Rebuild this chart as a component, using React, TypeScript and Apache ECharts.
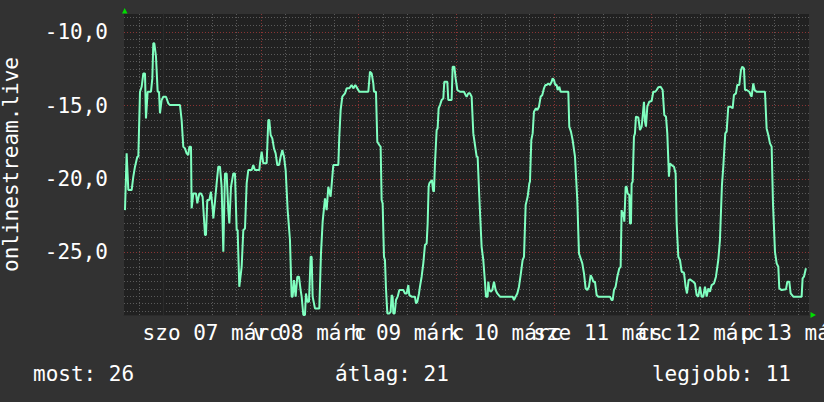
import React, { useEffect, useRef } from 'react';
import * as echarts from 'echarts';

// Time axis unit: hours since 2026-03-07 00:00 ("szo 07 márc")
const X_MIN = -9.66;
const X_MAX = 158.65;
const Y_MIN = -29.27;
const Y_MAX = -8.75;

const dayLineHours = [0, 24, 48, 72, 96, 120, 144];
const sixHourLineHours = [-6, 6, 12, 18, 30, 36, 42, 54, 60, 66, 78, 84, 90, 102, 108, 114, 126, 132, 138, 150, 156];
const xLabelHours = [12, 36, 60, 84, 108, 132, 156];
const xLabels = ['szo 07 márc', 'v 08 márc', 'h 09 márc', 'k 10 márc', 'sze 11 márc', 'cs 12 márc', 'p 13 márc'];

const yMajorValues = [-25, -20, -15, -10];
const yMajorLabels = ['-25,0', '-20,0', '-15,0', '-10,0'];
const yMinorValues = [-29, -28.5, -28, -27.5, -27, -26.5, -26, -25.5, -24.5, -24, -23.5, -23, -22.5, -22, -21.5, -21, -20.5,
  -19.5, -19, -18.5, -18, -17.5, -17, -16.5, -16, -15.5, -14.5, -14, -13.5, -13, -12.5, -12, -11.5, -11, -10.5, -9.5, -9];

const seriesName = 'onlinestream.live';
const legendNow = 'most: 26';
const legendAvg = 'átlag: 21';
const legendBest = 'legjobb: 11';

// [hour, value] readings
const readingsMar6to8: [number, number][] = [
  [-9.42, -22.12], [-9.01, -18.25], [-8.6, -20.75], [-7.78, -20.75], [-7.37, -19.84], [-6.96, -19.16], [-6.39, -18.48],
  [-6.14, -18.48], [-5.73, -14.05], [-5.32, -13.71], [-4.91, -12.8], [-4.5, -12.8], [-4.26, -15.87], [-4.1, -15.87],
  [-3.85, -14.05], [-3.03, -14.05], [-2.7, -13.14], [-2.46, -10.75], [-2.21, -10.75], [-1.8, -11.66], [-1.64, -11.66],
  [-1.39, -14.05], [-1.06, -14.05], [-0.82, -15.52], [-0.66, -15.52], [-0.41, -14.61], [0, -14.39], [0.66, -14.39],
  [1.23, -14.84], [1.64, -14.96], [4.1, -14.96], [4.5, -15.98], [4.91, -17.8], [5.32, -17.91], [5.73, -18.25],
  [6.14, -18.37], [6.39, -17.8], [6.8, -17.8], [6.96, -22.0], [7.37, -20.98], [8.03, -20.98], [8.35, -21.66],
  [8.85, -20.98], [9.25, -20.98], [9.66, -21.21], [10.24, -23.82], [10.48, -23.82], [10.81, -21.43], [11.3, -21.43],
  [11.71, -20.87], [12.12, -22.0], [12.29, -22.68], [12.69, -21.55], [13.1, -20.3], [13.51, -19.16], [13.92, -19.16],
  [14.33, -20.53], [14.74, -24.96], [14.91, -24.96], [15.15, -19.62], [15.56, -19.62], [15.97, -22.12], [16.22, -23.03],
  [16.63, -20.53], [17.2, -19.62], [17.61, -19.62], [18.02, -23.48], [18.26, -23.48], [18.67, -27.35], [18.84, -27.35],
  [19.25, -25.98], [19.66, -23.48], [20.07, -23.37], [20.48, -20.3], [20.88, -19.39], [21.7, -19.39], [22.11, -19.05],
  [22.52, -19.39], [23.59, -19.39], [23.75, -18.93], [24.16, -18.14], [24.57, -18.93], [25.39, -18.93], [25.8, -15.98],
  [26.04, -15.98], [26.37, -17.0], [26.78, -17.23], [27.19, -17.91], [27.6, -18.25], [28.01, -19.05], [28.42, -19.05],
  [28.83, -18.48], [29.24, -18.02], [29.65, -18.48], [30.06, -19.39], [30.55, -22.12], [31.12, -24.16], [31.53, -28.02],
  [31.78, -28.02], [32.1, -26.89], [32.51, -28.02], [32.92, -26.66], [33.33, -26.66], [33.74, -27.57], [33.99, -28.02],
  [34.4, -29.27], [34.81, -29.27], [35.05, -27.8], [35.38, -28.37], [35.79, -28.37], [36.2, -25.3], [36.45, -25.3],
  [36.69, -28.02], [37.26, -28.82], [38.33, -28.82], [38.74, -25.07], [39.15, -22.91], [39.72, -21.32], [40.13, -22.12],
  [40.54, -20.53], [41.11, -21.21], [41.77, -19.05], [43.0, -19.05], [43.24, -17.12], [43.57, -15.3], [43.98, -14.39],
  [44.64, -14.16], [45.05, -13.82], [45.7, -13.82], [46.27, -13.59], [46.68, -13.82], [47.17, -13.59], [47.67, -13.82],
  [48.16, -14.05],
];

const readingsMar8to11: [number, number][] = [
  [48.73, -14.05], [50.37, -14.05], [50.78, -12.68], [51.19, -12.8], [51.6, -13.48], [51.76, -14.05], [52.25, -14.05],
  [52.58, -17.46], [53.07, -17.68], [53.4, -17.8], [53.64, -21.43], [53.89, -21.66], [54.22, -25.3], [54.46, -25.52],
  [54.71, -27.46], [55.04, -29.16], [55.53, -29.16], [55.86, -29.05], [56.1, -27.91], [56.35, -28.02], [56.51, -29.16],
  [56.84, -29.16], [57.17, -28.25], [57.58, -28.02], [57.99, -27.57], [58.97, -27.57], [59.38, -27.8], [59.79, -27.8],
  [60.2, -27.23], [60.44, -27.91], [61.02, -28.02], [61.83, -28.02], [62.08, -28.48], [62.41, -28.37], [62.82, -27.8],
  [63.06, -27.34], [63.47, -26.66], [63.88, -25.75], [64.29, -24.5], [64.7, -24.39], [64.95, -23.03], [65.19, -20.53],
  [65.36, -20.3], [65.68, -20.18], [66.01, -20.07], [66.26, -20.75], [66.5, -20.87], [66.75, -18.93], [67.16, -16.66],
  [67.4, -16.55], [67.65, -15.18], [67.98, -14.96], [68.39, -14.61], [68.8, -14.5], [69.04, -13.37], [69.78, -13.37],
  [70.02, -14.61], [70.84, -14.61], [71.09, -12.34], [71.5, -12.34], [71.83, -13.14], [72.24, -13.93], [72.89, -14.05],
  [73.87, -14.05], [74.28, -14.27], [74.53, -14.39], [74.94, -14.16], [75.35, -14.16], [75.76, -14.39], [76.17, -16.89],
  [76.58, -17.68], [76.99, -18.48], [77.23, -18.48], [77.64, -21.21], [78.21, -24.62], [78.62, -25.52], [79.03, -27.0],
  [79.28, -28.02], [79.69, -28.02], [79.85, -27.0], [80.1, -27.57], [80.43, -27.68], [80.84, -27.57], [81.25, -27.0],
  [81.65, -27.57], [82.06, -27.8], [82.72, -28.02], [85.83, -28.02], [86.16, -28.25], [86.57, -28.02], [86.98, -27.8],
  [87.39, -27.34], [87.8, -26.55], [88.29, -25.52], [88.62, -25.3], [89.03, -21.77], [89.52, -21.21], [89.93, -20.3],
  [90.09, -20.18], [90.42, -17.34], [90.75, -16.89], [91.07, -15.41], [91.56, -15.18], [91.89, -15.3], [92.3, -15.07],
  [92.71, -14.39], [93.12, -14.27], [93.53, -13.82], [93.86, -13.59], [94.19, -13.59], [94.59, -13.48], [95.0, -13.59],
  [95.41, -13.37], [95.66, -13.14], [95.99, -13.25], [96.31, -13.59], [96.64, -13.59], [96.89, -13.93], [97.3, -13.71],
  [97.62, -14.05], [99.51, -14.05], [99.75, -16.43], [100.16, -16.77], [100.57, -17.34], [101.15, -18.48], [101.72, -21.43],
  [102.13, -25.07], [102.54, -25.41], [102.95, -25.75], [103.36, -26.43], [103.77, -27.46], [104.18, -27.57], [104.59, -27.34],
  [105.0, -26.55], [105.41, -26.78], [105.65, -27.0], [106.06, -27.0], [106.47, -27.91], [106.88, -28.02],
];

const readingsMar11to13: [number, number][] = [
  [109.75, -28.02], [110.16, -28.25], [110.4, -28.25], [110.73, -27.57], [111.14, -27.34], [111.55, -26.66], [112.04, -26.09],
  [112.37, -25.98], [112.61, -22.12], [112.86, -22.57], [113.02, -22.23], [113.27, -22.91], [113.6, -20.53], [113.84, -20.53],
  [114.09, -20.98], [114.5, -21.09], [114.66, -23.03], [114.91, -23.03], [115.07, -20.3], [115.32, -20.18], [115.64, -17.12],
  [115.89, -16.89], [116.13, -15.75], [116.71, -15.8], [117.12, -16.66], [117.53, -16.43], [117.77, -15.75], [118.1, -14.73],
  [118.35, -16.09], [118.59, -16.43], [118.92, -15.07], [119.41, -14.73], [119.98, -14.68], [120.39, -14.05], [120.88, -14.05],
  [121.21, -13.93], [121.62, -13.75], [122.19, -13.71], [122.69, -13.93], [123.1, -15.64], [123.51, -15.75], [123.83, -16.89],
  [124.24, -19.84], [124.49, -18.93], [124.9, -19.05], [125.47, -19.16], [125.88, -19.62], [126.13, -23.03], [126.54, -25.3],
  [126.95, -25.52], [127.36, -26.32], [127.93, -26.39], [128.34, -27.34], [128.67, -27.8], [129.07, -26.89], [129.4, -26.84],
  [130.22, -27.0], [130.63, -27.12], [131.04, -27.91], [131.45, -28.02], [131.86, -27.34], [132.27, -28.02], [132.68, -28.02],
  [133.09, -27.34], [133.5, -28.02], [133.91, -27.46], [134.32, -27.68], [134.73, -27.23], [135.3, -27.12], [135.79, -26.66],
  [136.36, -25.52], [136.77, -24.16], [137.26, -20.41], [137.59, -19.16], [138.08, -16.89], [138.41, -16.77], [138.82, -15.07],
  [139.39, -15.07], [139.89, -15.18], [140.21, -14.27], [140.7, -14.16], [141.03, -13.59], [141.52, -13.59], [141.93, -12.57],
  [142.26, -12.34], [142.67, -12.46], [142.92, -13.93], [143.33, -13.93], [143.98, -14.05], [144.55, -14.39], [144.96, -13.48],
  [145.29, -13.93], [145.78, -14.05], [147.83, -14.05], [148.24, -16.55], [148.65, -17.0], [149.06, -17.57], [149.47, -17.8],
  [149.8, -21.66], [150.29, -24.96], [150.7, -25.75], [151.11, -25.98], [151.35, -27.46], [151.93, -27.57], [152.99, -27.52],
  [153.32, -27.0], [153.81, -27.0], [154.14, -27.8], [154.79, -28.02], [156.84, -28.02], [157.08, -26.77], [157.41, -26.66],
  [157.9, -26.09],
];

const FONT = '"DejaVu Sans Mono", monospace';
const FONT_SIZE = 21;
const TEXT = '#ffffff';
const MINOR = '#5a5a5a';
const MAJOR = '#8a3434';
const LINE = '#80ffc0';
const ARROW = '#00dd00';

const labelFor = (v: number) => {
  const i = xLabelHours.findIndex((h) => Math.abs(h - v) < 1e-6);
  return i >= 0 ? xLabels[i] : '';
};

// Alternate labels go on two overlaid axes so that the library does not drop overlapping ones.
const xLabelHoursA = xLabelHours.filter((_, i) => i % 2 === 0);
const xLabelHoursB = xLabelHours.filter((_, i) => i % 2 === 1);

export default function App() {
  const ref = useRef<HTMLDivElement>(null);

  useEffect(() => {
    if (!ref.current) return;
    const chart = echarts.init(ref.current, undefined, { renderer: 'svg' });
    const data = [...readingsMar6to8, ...readingsMar8to11, ...readingsMar11to13];

    const labelAxis = (hours: number[]) => ({
      show: true, customValues: hours, hideOverlap: false,
      showMinLabel: true, showMaxLabel: true,
      color: TEXT, fontFamily: FONT, fontSize: FONT_SIZE, margin: 7,
      formatter: labelFor,
    });

    const option: any = {
      animation: false,
      backgroundColor: '#323232',
      textStyle: { fontFamily: FONT },
      grid: {
        left: 124, right: 15, top: 14, bottom: 87,
        show: true, backgroundColor: '#212121', borderWidth: 0,
        containLabel: false, outerBoundsMode: 'none',
      },
      xAxis: [
        {
          type: 'value', min: X_MIN, max: X_MAX, position: 'bottom',
          axisLine: { show: false },
          axisTick: { show: false, customValues: sixHourLineHours },
          axisLabel: { show: false },
          splitLine: { show: true, lineStyle: { color: MINOR, width: 1, type: [1, 2] } },
        },
        {
          type: 'value', min: X_MIN, max: X_MAX, position: 'bottom',
          axisLine: { show: true, lineStyle: { color: '#2b2b2b', width: 1 } },
          axisTick: { show: false, customValues: dayLineHours },
          axisLabel: labelAxis(xLabelHoursA),
          splitLine: { show: true, lineStyle: { color: MAJOR, width: 1, type: [1, 2] } },
        },
        {
          type: 'value', min: X_MIN, max: X_MAX, position: 'bottom', offset: 0,
          axisLine: { show: false },
          axisTick: { show: false, customValues: dayLineHours },
          axisLabel: labelAxis(xLabelHoursB),
          splitLine: { show: false },
        },
      ],
      yAxis: [
        {
          type: 'value', min: Y_MIN, max: Y_MAX, position: 'left',
          axisLine: { show: false },
          axisTick: { show: false, customValues: yMinorValues },
          axisLabel: { show: false },
          splitLine: { show: true, lineStyle: { color: MINOR, width: 1, type: [1, 2] } },
        },
        {
          type: 'value', min: Y_MIN, max: Y_MAX, position: 'left',
          name: seriesName, nameLocation: 'middle', nameGap: 103, nameRotate: 90,
          nameTextStyle: { color: TEXT, fontFamily: FONT, fontSize: FONT_SIZE },
          axisLine: { show: true, lineStyle: { color: '#2b2b2b', width: 1 } },
          axisTick: { show: false, customValues: yMajorValues },
          axisLabel: {
            show: true, customValues: yMajorValues, hideOverlap: false,
            showMinLabel: true, showMaxLabel: true,
            color: TEXT, fontFamily: FONT, fontSize: FONT_SIZE, margin: 16,
            formatter: (v: number) => {
              const i = yMajorValues.findIndex((t) => Math.abs(t - v) < 1e-6);
              return i >= 0 ? yMajorLabels[i] : '';
            },
          },
          splitLine: { show: true, lineStyle: { color: MAJOR, width: 1, type: [1, 2] } },
        },
      ],
      series: [
        {
          name: seriesName, type: 'line', xAxisIndex: 1, yAxisIndex: 1, data,
          symbol: 'none', showSymbol: false, clip: true, z: 5,
          lineStyle: { color: LINE, width: 2 },
        },
      ],
      graphic: [
        { type: 'polygon', shape: { points: [[122, 13.5], [127.5, 13.5], [124.7, 8]] }, style: { fill: ARROW } },
        { type: 'polygon', shape: { points: [[810.5, 312], [810.5, 318], [816, 315]] }, style: { fill: ARROW } },
        { type: 'text', x: 33, y: 374, style: { text: legendNow, fill: TEXT, font: `${FONT_SIZE}px ${FONT}`, textAlign: 'left', textVerticalAlign: 'middle' } },
        { type: 'text', x: 392, y: 374, style: { text: legendAvg, fill: TEXT, font: `${FONT_SIZE}px ${FONT}`, textAlign: 'center', textVerticalAlign: 'middle' } },
        { type: 'text', x: 791, y: 374, style: { text: legendBest, fill: TEXT, font: `${FONT_SIZE}px ${FONT}`, textAlign: 'right', textVerticalAlign: 'middle' } },
      ],
    };

    chart.setOption(option);
    return () => chart.dispose();
  }, []);

  return <div ref={ref} style={{ position: 'fixed', left: 0, top: 0, width: 824, height: 402 }} />;
}
